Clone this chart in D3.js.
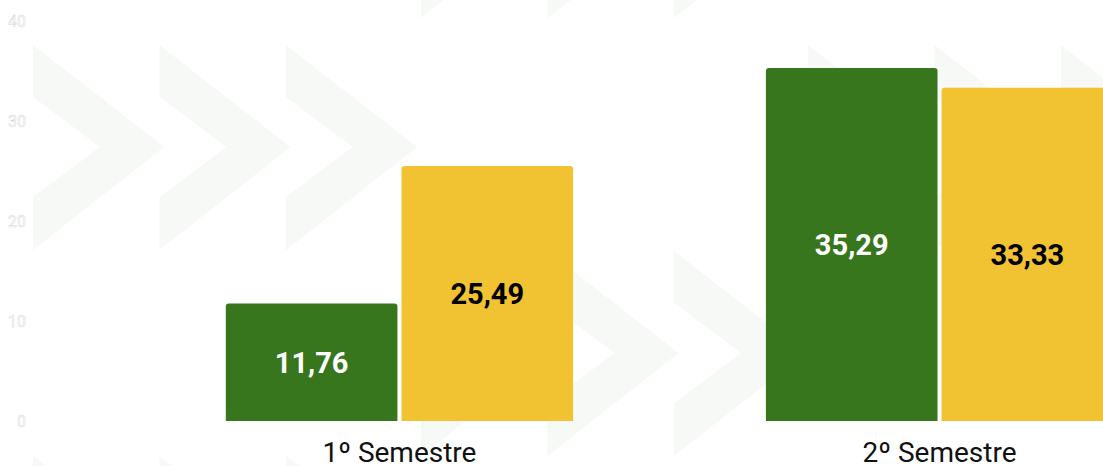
<!DOCTYPE html>
<html>
<head>
<meta charset="utf-8">
<script src="https://cdn.jsdelivr.net/npm/d3@7"></script>
<style>
  html, body { margin: 0; padding: 0; background: #fff; }
  svg { display: block; font-family: Roboto, "Noto Sans", sans-serif; }
</style>
</head>
<body>
<div class="chart"></div>
<script>
const categories = ["1º Semestre", "2º Semestre"];
const seriesKeys = ["a", "b"];
const seriesGreen = [11.76, 35.29];
const seriesYellow = [25.49, 33.33];
const yTicks = [0, 10, 20, 30, 40];

// decorative chevron groups in the background (left x, centre y of each group of three)
const chevronGroups = [[33, 147], [808, 147], [421, -85], [421, 353], [33, 558]];

const width = 1103,
	height = 466;
const colors = { a: "#38761d", b: "#f1c232" };
const labelColors = { a: "#ffffff", b: "#000000" };

const locale = d3.formatLocale({ decimal: ",", thousands: ".", grouping: [3], currency: ["", ""] });
const fmt = locale.format(".2f");

const svg = d3.select(".chart").append("svg").attr("width", width).attr("height", height);

// background chevrons
const bg = svg.append("g").attr("fill", "#f6f9f6");
chevronGroups.forEach(([gx, gy]) => {
	for (let i = 0; i < 3; i++) {
		const l = gx + i * 126.5;
		bg.append("path").attr(
			"d",
			`M${l},${gy - 102}L${l + 131},${gy}L${l},${gy + 103}L${l},${gy + 50}L${l + 67},${gy}L${l},${gy - 50}Z`
		);
	}
});

const y = d3.scaleLinear().domain([0, 40]).range([421, 21]);
const x = d3.scaleBand().domain(categories).range([33, 1306]).padding(0.357);
const xSub = d3.scaleBand().domain(seriesKeys).range([0, x.bandwidth()]).paddingInner(0.023);

svg.append("g")
	.attr("transform", "translate(26,0)")
	.call(d3.axisLeft(y).tickValues(yTicks).tickSize(0).tickPadding(0))
	.call((g) => g.select(".domain").remove())
	.call((g) =>
		g
			.selectAll("text")
			.attr("fill", "#ffffff")
			.attr("stroke", "#d6d6d6")
			.attr("stroke-width", 0.5)
			.style("font", "16px Roboto, sans-serif")
	);

const rows = categories.map((c, i) => ({ cat: c, a: seriesGreen[i], b: seriesYellow[i] }));

const topRounded = (x0, y0, w, h, r) =>
	`M${x0},${y0 + h}V${y0 + r}Q${x0},${y0} ${x0 + r},${y0}H${x0 + w - r}Q${x0 + w},${y0} ${x0 + w},${y0 + r}V${y0 + h}Z`;

const groups = svg
	.selectAll("g.group")
	.data(rows)
	.enter()
	.append("g")
	.attr("class", "group")
	.attr("transform", (d) => `translate(${x(d.cat)},0)`);

const bars = groups
	.selectAll("g.bar")
	.data((d) => seriesKeys.map((k) => ({ key: k, value: d[k] })))
	.enter()
	.append("g")
	.attr("class", "bar");

bars.append("path")
	.attr("d", (d) => topRounded(xSub(d.key), y(d.value), xSub.bandwidth(), y(0) - y(d.value), 3))
	.attr("fill", (d) => colors[d.key]);

bars.append("text")
	.attr("x", (d) => xSub(d.key) + xSub.bandwidth() / 2)
	.attr("y", (d) => (y(d.value) + y(0)) / 2 + 10.3)
	.attr("text-anchor", "middle")
	.attr("fill", (d) => labelColors[d.key])
	.style("font", "bold 29px Roboto, sans-serif")
	.text((d) => fmt(d.value));

svg.append("g")
	.selectAll("text")
	.data(categories)
	.enter()
	.append("text")
	.attr("x", (d) => x(d) + x.bandwidth() / 2)
	.attr("y", 462)
	.attr("text-anchor", "middle")
	.attr("fill", "#111")
	.style("font", "28px Roboto, sans-serif")
	.text((d) => d);
</script>
</body>
</html>
